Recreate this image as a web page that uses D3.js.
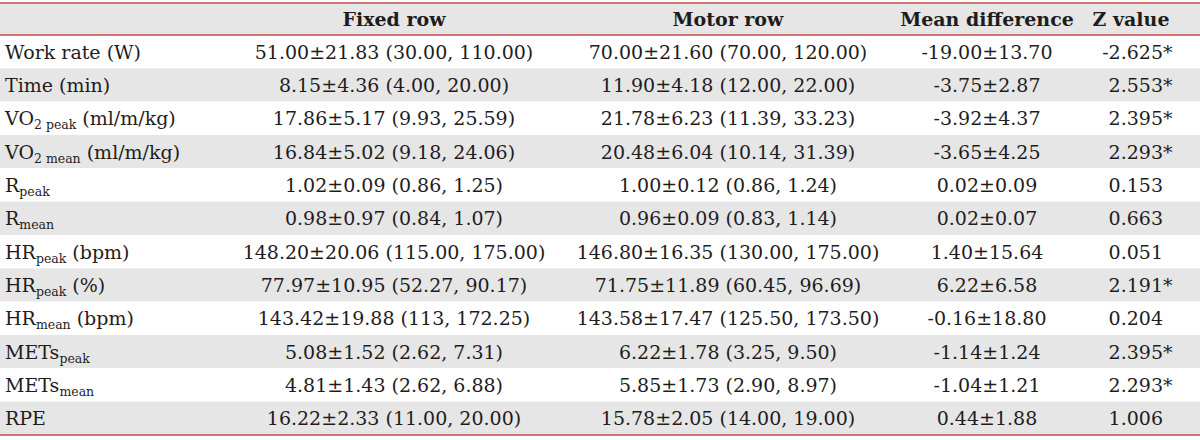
<!DOCTYPE html>
<html><head><meta charset="utf-8">
<script src="https://cdn.jsdelivr.net/npm/d3@7"></script>
<style>
html,body{margin:0;padding:0;background:#fff;}
svg{display:block;}
text{font-family:"DejaVu Serif",serif;fill:#1f1c1d;}
</style></head>
<body><svg id="chart" width="1200" height="440"></svg>
<script>
// ---- data ----
const headers = ["", "Fixed row", "Motor row", "Mean difference", "Z value"];
const labelMain = ["Work rate (W)", "Time (min)", "VO", "VO", "R", "R", "HR", "HR", "HR", "METs", "METs", "RPE"];
const labelSub  = ["", "", "2 peak", "2 mean", "peak", "mean", "peak", "peak", "mean", "peak", "mean", ""];
const labelTail = ["", "", " (ml/m/kg)", " (ml/m/kg)", "", "", " (bpm)", " (%)", " (bpm)", "", "", ""];
const fixedRow = ["51.00±21.83 (30.00, 110.00)", "8.15±4.36 (4.00, 20.00)", "17.86±5.17 (9.93, 25.59)", "16.84±5.02 (9.18, 24.06)",
  "1.02±0.09 (0.86, 1.25)", "0.98±0.97 (0.84, 1.07)", "148.20±20.06 (115.00, 175.00)", "77.97±10.95 (52.27, 90.17)",
  "143.42±19.88 (113, 172.25)", "5.08±1.52 (2.62, 7.31)", "4.81±1.43 (2.62, 6.88)", "16.22±2.33 (11.00, 20.00)"];
const motorRow = ["70.00±21.60 (70.00, 120.00)", "11.90±4.18 (12.00, 22.00)", "21.78±6.23 (11.39, 33.23)", "20.48±6.04 (10.14, 31.39)",
  "1.00±0.12 (0.86, 1.24)", "0.96±0.09 (0.83, 1.14)", "146.80±16.35 (130.00, 175.00)", "71.75±11.89 (60.45, 96.69)",
  "143.58±17.47 (125.50, 173.50)", "6.22±1.78 (3.25, 9.50)", "5.85±1.73 (2.90, 8.97)", "15.78±2.05 (14.00, 19.00)"];
const meanDiff = ["-19.00±13.70", "-3.75±2.87", "-3.92±4.37", "-3.65±4.25", "0.02±0.09", "0.02±0.07", "1.40±15.64",
  "6.22±6.58", "-0.16±18.80", "-1.14±1.24", "-1.04±1.21", "0.44±1.88"];
const zValue = ["-2.625", "2.553", "2.395", "2.293", "0.153", "0.663", "0.051", "2.191", "0.204", "2.395", "2.293", "1.006"];
const zStar  = ["*", "*", "*", "*", "", "", "", "*", "", "*", "*", ""];

// ---- layout ----
const W = 1200, topY = 3, headH = 32, bottomY = 435;
const fs = 19, subFs = 12.5;
const svg = d3.select("#chart");
const rows = d3.range(labelMain.length);
const y = d3.scaleBand().domain(rows).range([topY + headH, bottomY]).padding(0);
const colX = [5, 394, 728, 987, 1163];
const headX = [5, 394, 728, 987, 1131];
const grey = "#e6e6e6", red = "#c8484b";

// header background
svg.append("rect").attr("x", 0).attr("y", topY).attr("width", W).attr("height", headH).attr("fill", grey);
// row backgrounds
svg.selectAll("rect.row").data(rows).join("rect").attr("class", "row")
  .attr("x", 0).attr("y", d => y(d)).attr("width", W).attr("height", y.bandwidth())
  .attr("fill", d => d % 2 ? grey : "#fff");

// header text
svg.selectAll("text.head").data(headers.slice(1)).join("text").attr("class", "head")
  .attr("x", (d, i) => headX[i + 1])
  .attr("y", topY + headH / 2 + 7)
  .attr("text-anchor", "middle").attr("font-weight", "bold").attr("font-size", fs)
  .text(d => d);

const base = d => y(d) + y.bandwidth() / 2 + 7;

// label column
const lab = svg.selectAll("text.lab").data(rows).join("text").attr("class", "lab")
  .attr("x", colX[0]).attr("y", base).attr("font-size", fs);
lab.append("tspan").text(d => labelMain[d]);
lab.filter(d => labelSub[d]).append("tspan").attr("font-size", subFs).attr("dy", 4).text(d => labelSub[d]);
lab.filter(d => labelTail[d]).append("tspan").attr("dy", -4).text(d => labelTail[d]);

// value columns
[fixedRow, motorRow, meanDiff].forEach((arr, ci) => {
  svg.selectAll("text.c" + ci).data(rows).join("text").attr("class", "c" + ci)
    .attr("x", colX[ci + 1]).attr("y", base).attr("text-anchor", "middle").attr("font-size", fs)
    .text(d => arr[d]);
});
svg.selectAll("text.z").data(rows).join("text").attr("class", "z")
  .attr("x", colX[4]).attr("y", base).attr("text-anchor", "end").attr("font-size", fs)
  .text(d => zValue[d]);
svg.selectAll("text.zs").data(rows.filter(d => zStar[d])).join("text").attr("class", "zs")
  .attr("x", colX[4]).attr("y", base).attr("text-anchor", "start").attr("font-size", fs)
  .text(d => zStar[d]);

// red rules
[topY, topY + headH, bottomY].forEach(v => {
  svg.append("line").attr("x1", 0).attr("x2", W).attr("y1", v).attr("y2", v)
    .attr("stroke", red).attr("stroke-width", 1.6);
});
</script></body></html>
